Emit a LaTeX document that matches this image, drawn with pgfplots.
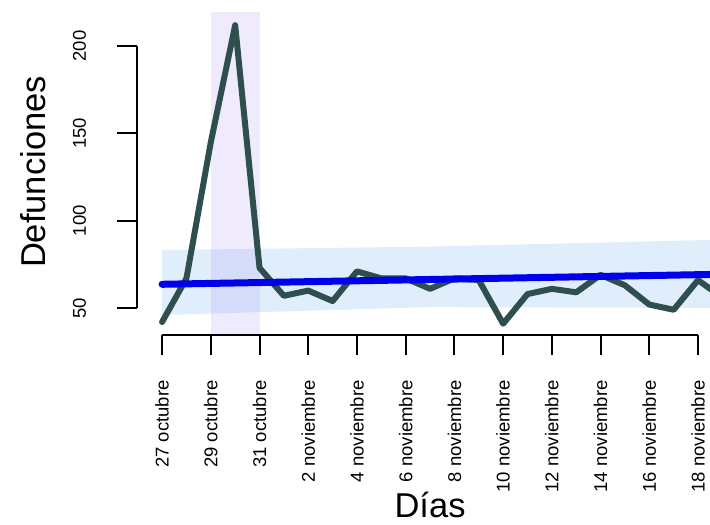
\documentclass[border=0pt]{standalone}
\usepackage{pgfplots}
\pgfplotsset{compat=1.18}
\usepackage{fontspec}
\setmainfont{Liberation Sans}
\definecolor{dslate}{RGB}{47,79,79}
\definecolor{bandblue}{RGB}{100,170,240}
\definecolor{peakpurple}{RGB}{150,120,240}
\definecolor{trendblue}{RGB}{0,0,235}
\begin{document}
\begin{tikzpicture}
\useasboundingbox (0,0) rectangle (710pt,525pt);
\begin{axis}[
  at={(137pt,189.9pt)}, anchor=south west,
  x=24.36pt, y=1.746pt,
  xmin=-1.03, xmax=24, ymin=34.5, ymax=219.5,
  clip=false,
  axis line style={draw=none},
  axis x line*=bottom, axis y line*=left,
  xtick={0,2,...,22},
  xticklabels={27 octubre,29 octubre,31 octubre,2 noviembre,4 noviembre,6 noviembre,8 noviembre,10 noviembre,12 noviembre,14 noviembre,16 noviembre,18 noviembre},
  ytick={50,100,150,200},
  minor tick num=0,
  tick align=outside, major tick length=20pt,
  tick style={line width=2pt, black},
  /pgf/number format/assume math mode=true,
  ticklabel style={font=\fontsize{18.5}{18.5}\selectfont},
  xticklabel style={rotate=90, anchor=east, inner sep=0pt},
  yticklabel style={rotate=90, anchor=base, inner sep=0pt},
  xticklabel shift=25pt,
  yticklabel shift=31pt,
  xlabel={Días},
  ylabel={Defunciones},
  label style={font=\fontsize{34.5}{34.5}\selectfont},
  xlabel style={at={(axis cs:11,-69.7)}, anchor=base, inner sep=0pt},
  ylabel style={at={(axis cs:-4.8,127.9)}, anchor=base, inner sep=0pt},
]
% prediction band
\addplot[draw=none, fill=bandblue, fill opacity=0.2]
  coordinates {(0,83.2) (11,85.2) (24,89.5) (24,50) (11,50.5) (0,46)} -- cycle;
% highlighted period
\addplot[draw=none, fill=peakpurple, fill opacity=0.15]
  coordinates {(2,34.5) (4,34.5) (4,219.3) (2,219.3)} -- cycle;
% daily deaths
\addplot[dslate, line width=6pt, line join=round, line cap=round]
  coordinates {
  (0,42) (1,67) (2,145) (3,212) (4,73) (5,57) (6,60) (7,54)
  (8,71) (9,67) (10,67) (11,61) (12,67) (13,66) (14,41) (15,58)
  (16,61) (17,59) (18,69) (19,63) (20,52) (21,49) (22,66) (23,56)};
% trend line
\addplot[trendblue, line width=7pt, line cap=round]
  coordinates {(0,63.6) (24,69.6)};
% axis lines (R style, spanning the tick range)
\draw[line width=2pt] (axis cs:0,34.5) -- (axis cs:22,34.5);
\draw[line width=2pt] (axis cs:-1.03,50) -- (axis cs:-1.03,200);
\end{axis}
\end{tikzpicture}
\end{document}
